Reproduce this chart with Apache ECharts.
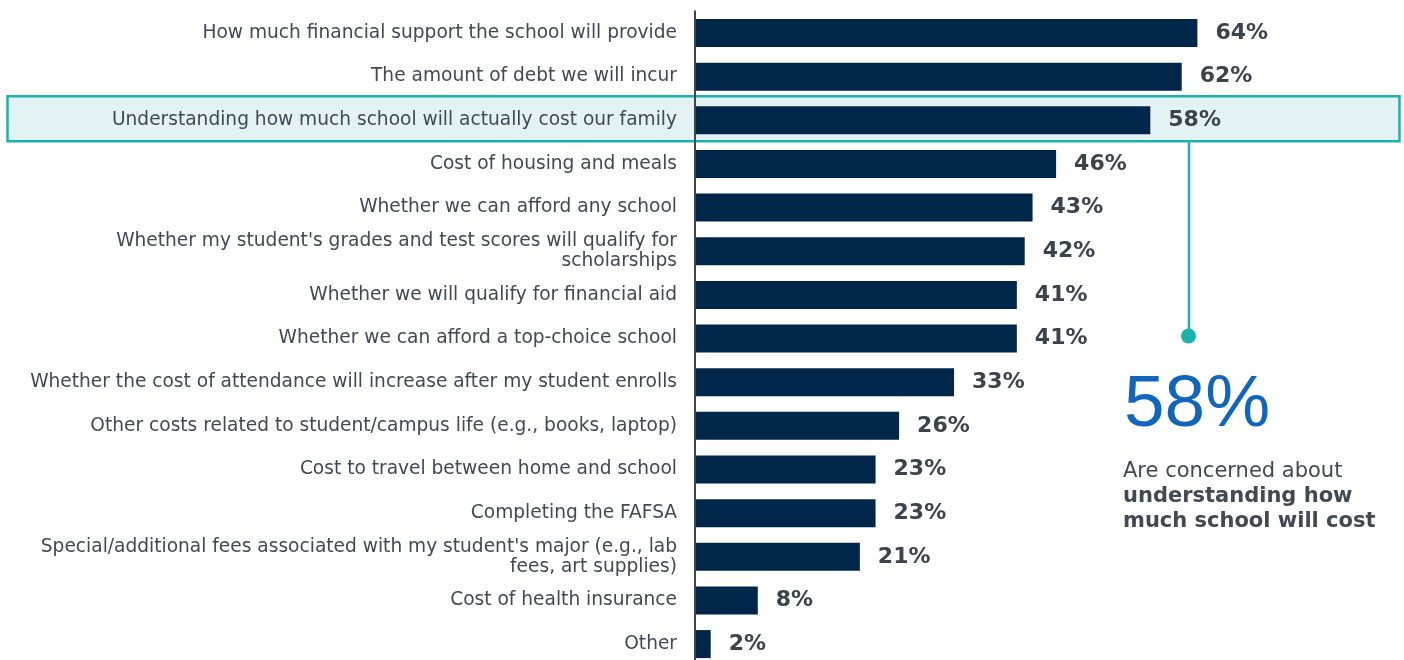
<!DOCTYPE html>
<html>
<head>
<meta charset="utf-8">
<script src="https://cdn.jsdelivr.net/npm/echarts@6/dist/echarts.min.js"></script>
<style>
  html, body { margin: 0; padding: 0; background: #ffffff; }
  #chart { width: 1404px; height: 660px; }
</style>
</head>
<body>
<div id="chart"></div>
<script>
// Survey items, top to bottom
const categories = [
  'How much financial support the school will provide',
  'The amount of debt we will incur',
  'Understanding how much school will actually cost our family',
  'Cost of housing and meals',
  'Whether we can afford any school',
  "Whether my student's grades and test scores will qualify for\nscholarships",
  'Whether we will qualify for financial aid',
  'Whether we can afford a top-choice school',
  'Whether the cost of attendance will increase after my student enrolls',
  'Other costs related to student/campus life (e.g., books, laptop)',
  'Cost to travel between home and school',
  'Completing the FAFSA',
  "Special/additional fees associated with my student's major (e.g., lab\nfees, art supplies)",
  'Cost of health insurance',
  'Other'
];

// Share of respondents concerned (%)
const values = [64, 62, 58, 46, 43, 42, 41, 41, 33, 26, 23, 23, 21, 8, 2];

// Row called out on the right
const highlightIndex = 2;
const calloutLead = 'Are concerned about';
const calloutBold = ['understanding how', 'much school will cost'];

const TEAL = '#19b2ae';
const TEXT = '#414955';

const chart = echarts.init(document.getElementById('chart'), null, { renderer: 'canvas' });

chart.setOption({
  animation: false,
  backgroundColor: '#ffffff',
  grid: {
    left: 695, top: 11.2, width: 628, height: 654.7,
    containLabel: false,
    outerBoundsMode: 'none'
  },
  xAxis: { type: 'value', min: 0, max: 80, show: false },
  yAxis: {
    type: 'category',
    data: categories,
    inverse: true,
    axisLine: { show: true, lineStyle: { color: '#3d4550', width: 2 } },
    axisTick: { show: false },
    splitLine: { show: false },
    axisLabel: {
      fontFamily: 'DejaVu Sans',
      fontSize: 18.6,
      lineHeight: 20,
      color: TEXT,
      margin: 18,
      align: 'right'
    },
    z: 3
  },
  series: [{
    type: 'bar',
    data: values,
    barWidth: 28,
    itemStyle: { color: '#00264a' },
    label: {
      show: true,
      position: 'right',
      distance: 18,
      formatter: '{c}%',
      fontFamily: 'DejaVu Sans',
      fontWeight: 'bold',
      fontSize: 22,
      color: '#3b434d'
    },
    z: 2
  }]
});

// Highlight band, connector and callout placed from the highlighted row
const rowY = chart.convertToPixel({ yAxisIndex: 0 }, highlightIndex);
const boxTop = rowY - 24;
const boxH = 45;
const connectorX = 1189;
const dotY = 336;

chart.setOption({
  graphic: [
    {
      type: 'rect',
      z: -10,
      shape: { x: 7.5, y: boxTop, width: 1392, height: boxH },
      style: { fill: '#e3f2f3', stroke: TEAL, lineWidth: 2.5 }
    },
    {
      type: 'line',
      z: 5,
      shape: { x1: connectorX, y1: boxTop + boxH + 1, x2: connectorX, y2: dotY },
      style: { stroke: TEAL, lineWidth: 2.5 }
    },
    {
      type: 'circle',
      z: 5,
      shape: { cx: connectorX - 0.5, cy: dotY, r: 7.5 },
      style: { fill: TEAL }
    },
    {
      type: 'text',
      z: 5,
      x: 1124,
      y: 406,
      style: {
        text: values[highlightIndex] + '%',
        font: '73px "Liberation Sans", Arial, sans-serif',
        fill: '#1066be',
        textAlign: 'left',
        textVerticalAlign: 'middle'
      }
    },
    {
      type: 'text',
      z: 5,
      x: 1123,
      y: 459,
      style: {
        text: '{n|' + calloutLead + '}\n' + calloutBold.map(s => '{b|' + s + '}').join('\n'),
        textAlign: 'left',
        textVerticalAlign: 'top',
        rich: {
          n: { fontFamily: 'DejaVu Sans', fontSize: 21, lineHeight: 25, fill: TEXT, color: TEXT },
          b: { fontFamily: 'DejaVu Sans', fontSize: 21, fontWeight: 'bold', lineHeight: 25, fill: TEXT, color: TEXT }
        }
      }
    }
  ]
});
</script>
</body>
</html>
